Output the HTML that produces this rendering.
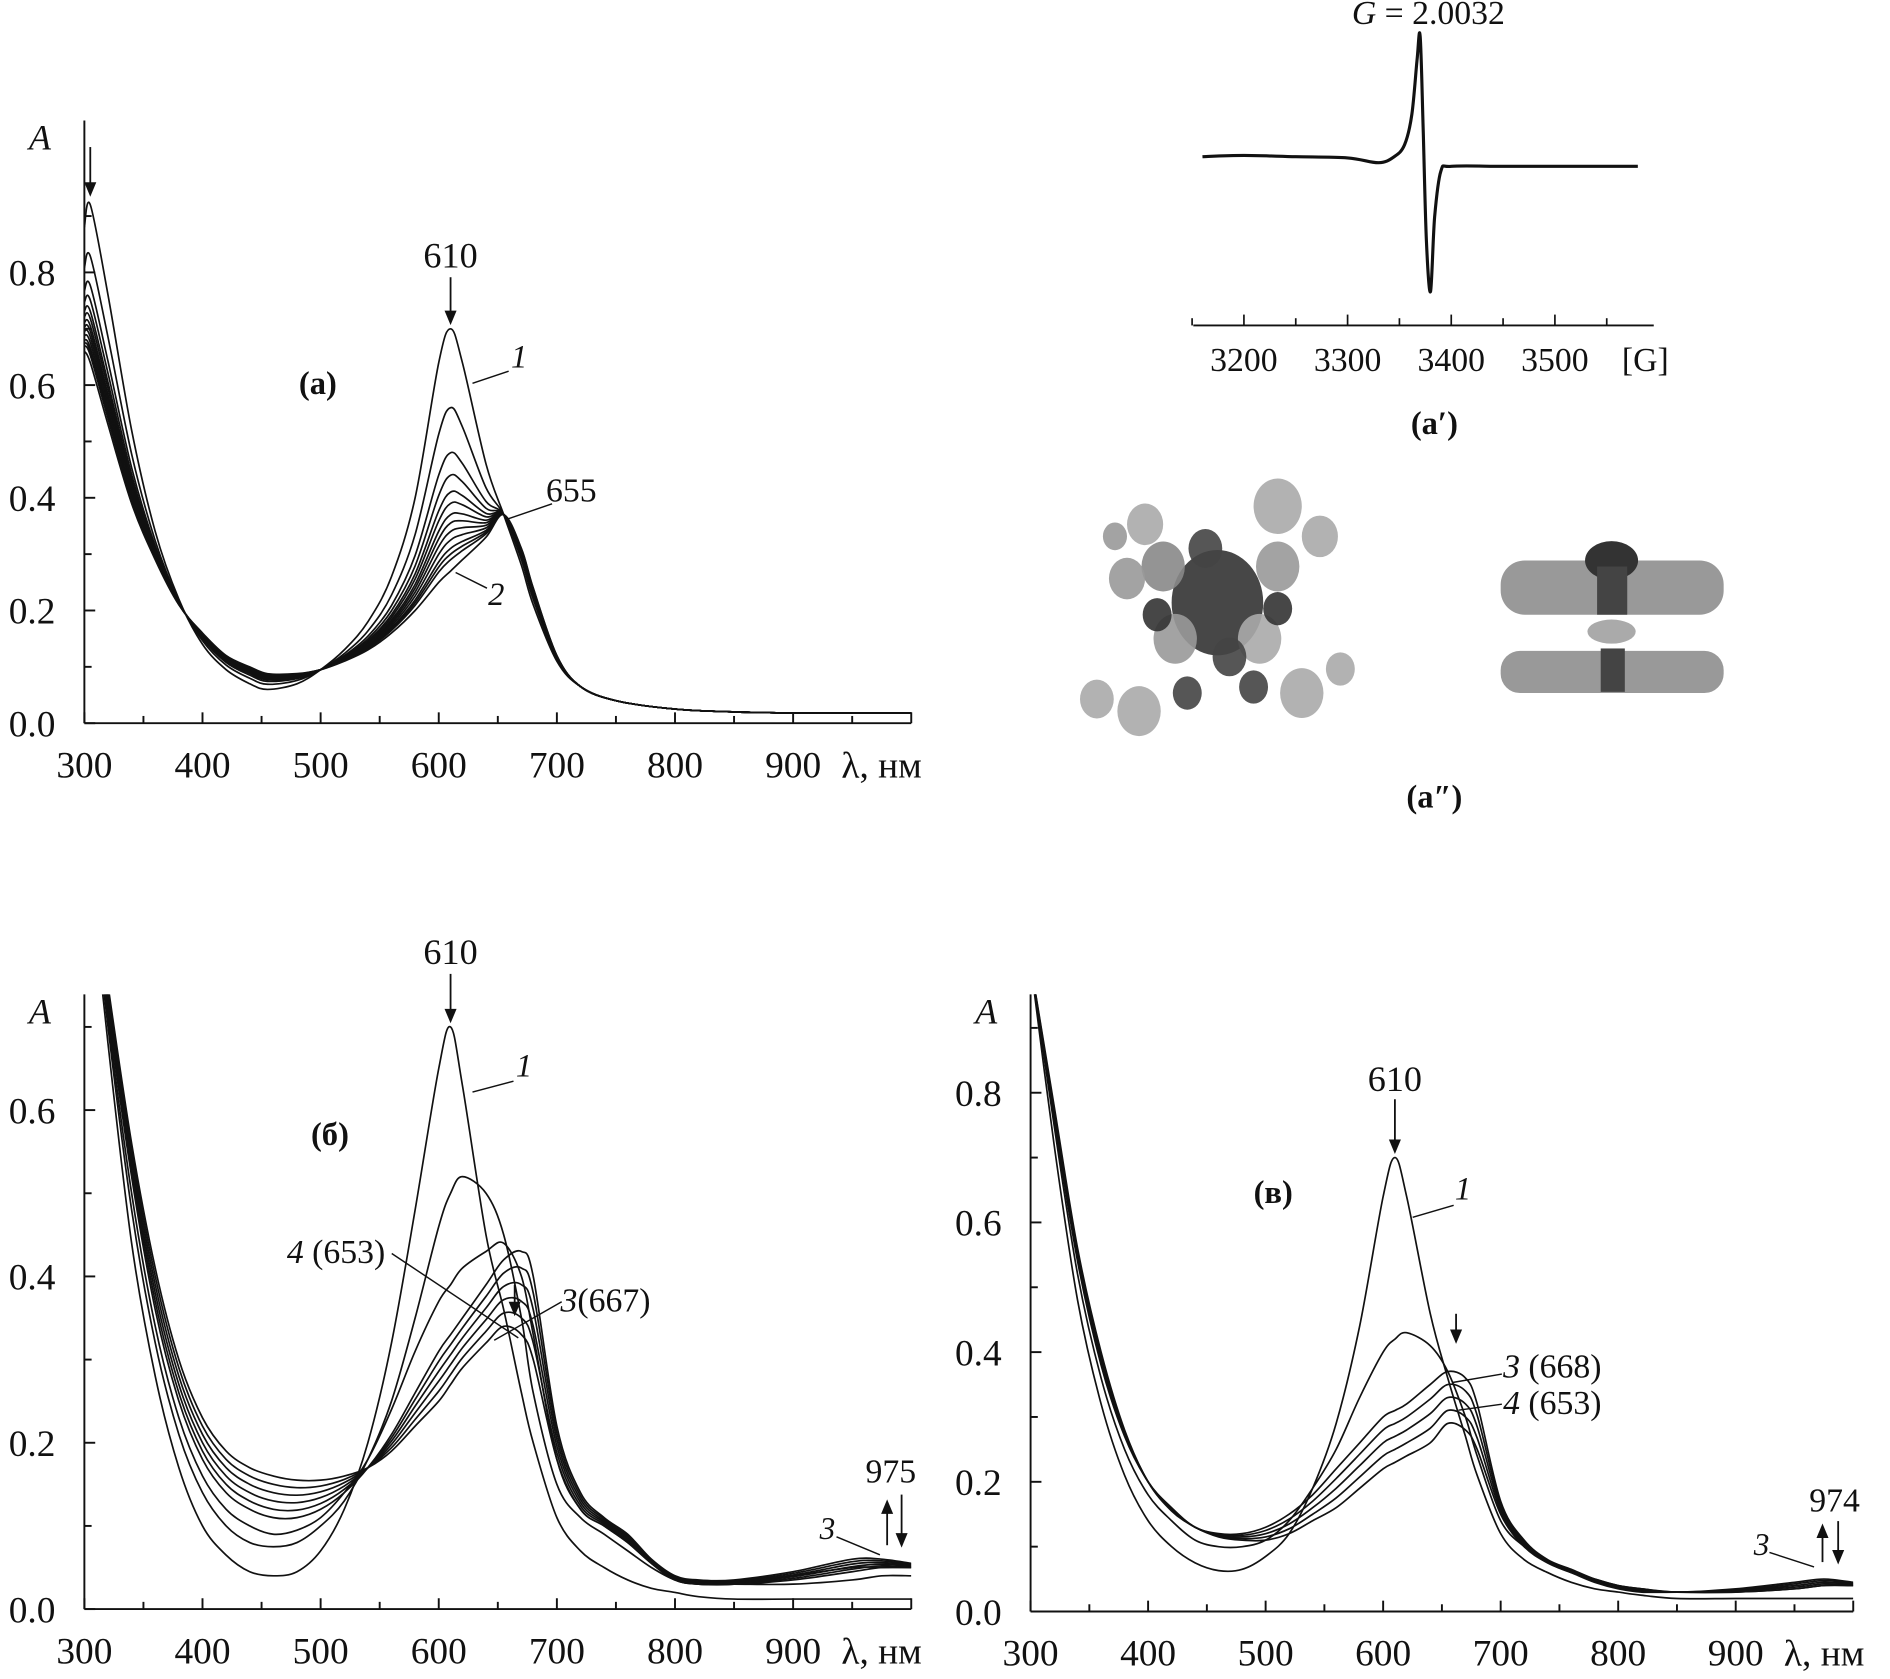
<!DOCTYPE html>
<html><head><meta charset="utf-8"><style>
html,body{margin:0;padding:0;background:#fff;}
svg{display:block;}
text{font-family:"Liberation Serif",serif;fill:#111;}
</style></head><body>
<svg id="fig" width="1890" height="1679" viewBox="0 0 1568 1393" preserveAspectRatio="none" xmlns="http://www.w3.org/2000/svg">
<g id="molecules"></g>
<g id="epr"></g>
</svg>
<script>
// ---------- DATA ----------
const gridA = [300,305,320,340,360,380,400,420,440,455,480,500,520,540,560,580,600,610,620,640,655,670,680,700,720,750,800,850,900,950,1000];
const aCurve1 = [0.88,0.92,0.76,0.52,0.34,0.22,0.14,0.095,0.07,0.06,0.07,0.095,0.13,0.18,0.26,0.40,0.64,0.70,0.64,0.46,0.37,0.28,0.21,0.11,0.065,0.04,0.025,0.02,0.018,0.018,0.018];
const aCurve2 = [0.66,0.64,0.53,0.39,0.29,0.21,0.16,0.12,0.10,0.088,0.088,0.095,0.11,0.13,0.16,0.20,0.25,0.27,0.29,0.33,0.37,0.31,0.24,0.12,0.065,0.04,0.025,0.02,0.018,0.018,0.018];
const aPeaks = [0.56,0.48,0.44,0.41,0.39,0.37,0.355,0.34,0.325,0.31,0.30,0.29];

const gridB = [300,320,340,360,380,400,420,440,460,480,500,520,540,560,580,600,610,620,640,655,670,680,700,720,740,760,780,800,820,850,900,950,975,1000];
const bCurve1 = [0.95,0.68,0.44,0.28,0.17,0.10,0.065,0.045,0.04,0.045,0.07,0.12,0.20,0.32,0.48,0.65,0.70,0.63,0.45,0.36,0.26,0.20,0.11,0.07,0.05,0.035,0.025,0.02,0.015,0.012,0.012,0.012,0.012,0.012];
const bCurve2 = [0.95,0.70,0.48,0.32,0.21,0.14,0.10,0.08,0.075,0.08,0.10,0.13,0.18,0.25,0.35,0.46,0.50,0.52,0.50,0.45,0.35,0.26,0.15,0.11,0.09,0.07,0.05,0.035,0.03,0.03,0.03,0.035,0.04,0.04];
const bCurve4 = [0.95,0.71,0.50,0.34,0.23,0.16,0.12,0.10,0.09,0.095,0.11,0.14,0.18,0.24,0.31,0.37,0.39,0.41,0.43,0.44,0.40,0.33,0.18,0.12,0.10,0.08,0.055,0.035,0.03,0.03,0.04,0.05,0.05,0.05];
const bCurve3 = [0.95,0.72,0.52,0.36,0.25,0.18,0.14,0.12,0.11,0.11,0.12,0.14,0.17,0.21,0.26,0.31,0.33,0.35,0.39,0.42,0.43,0.40,0.22,0.14,0.11,0.09,0.06,0.04,0.035,0.035,0.045,0.06,0.06,0.055];
const bCurveLast = [0.95,0.75,0.56,0.41,0.30,0.23,0.19,0.17,0.16,0.155,0.155,0.16,0.17,0.19,0.22,0.25,0.27,0.29,0.32,0.34,0.33,0.30,0.18,0.12,0.10,0.08,0.055,0.035,0.03,0.03,0.035,0.045,0.05,0.05];
const bMix = [0.8,0.6,0.4,0.2];

const cCurve1 = [1.0,0.72,0.48,0.32,0.21,0.14,0.10,0.075,0.063,0.065,0.085,0.12,0.19,0.29,0.44,0.64,0.70,0.64,0.46,0.36,0.27,0.21,0.12,0.08,0.06,0.045,0.035,0.03,0.025,0.02,0.02,0.02,0.02,0.02];
const cCurve2 = [1.0,0.75,0.52,0.36,0.25,0.18,0.14,0.11,0.10,0.10,0.11,0.14,0.19,0.25,0.33,0.40,0.42,0.43,0.41,0.37,0.30,0.24,0.14,0.10,0.075,0.06,0.05,0.04,0.035,0.03,0.03,0.035,0.04,0.04];
const cCurve3 = [1.0,0.76,0.54,0.38,0.27,0.20,0.16,0.13,0.12,0.12,0.13,0.15,0.18,0.22,0.26,0.30,0.31,0.32,0.35,0.37,0.36,0.32,0.17,0.11,0.08,0.065,0.05,0.04,0.035,0.03,0.035,0.045,0.05,0.045];
const cCurveLast = [1.0,0.78,0.56,0.40,0.28,0.20,0.155,0.13,0.115,0.11,0.11,0.12,0.14,0.16,0.19,0.22,0.23,0.24,0.26,0.29,0.28,0.25,0.15,0.10,0.075,0.06,0.045,0.035,0.03,0.03,0.03,0.035,0.04,0.04];
const cMix = [0.75,0.5,0.25];

const xTicks = [300,400,500,600,700,800,900];
const yTicksA = [0.0,0.2,0.4,0.6,0.8];
const yTicksB = [0.0,0.2,0.4,0.6];
const yTicksC = [0.0,0.2,0.4,0.6,0.8];

const eprField = [3160,3200,3250,3300,3330,3345,3355,3362,3367,3370,3373,3376,3380,3384,3390,3400,3450,3500,3580];
const eprSignal = [0.0,0.01,0.0,-0.01,-0.05,0.0,0.1,0.35,0.8,1.0,0.2,-0.7,-1.12,-0.5,-0.12,-0.08,-0.08,-0.08,-0.08];
const eprTicks = [3200,3300,3400,3500];

// ---------- HELPERS ----------
const NS='http://www.w3.org/2000/svg';
const svg=document.getElementById('fig');
function el(tag,attrs,parent){const e=document.createElementNS(NS,tag);for(const k in attrs)e.setAttribute(k,attrs[k]);(parent||svg).appendChild(e);return e;}
function txt(parent,x,y,s,size,opts){const t=el('text',Object.assign({x:x,y:y,'font-size':size},opts||{}),parent);t.textContent=s;return t;}
function smoothPath(pts){let d='M'+pts[0][0].toFixed(1)+','+pts[0][1].toFixed(1);
 for(let i=0;i<pts.length-1;i++){const p0=pts[i-1]||pts[i],p1=pts[i],p2=pts[i+1],p3=pts[i+2]||p2;
  const c1=[p1[0]+(p2[0]-p0[0])/6,p1[1]+(p2[1]-p0[1])/6],c2=[p2[0]-(p3[0]-p1[0])/6,p2[1]-(p3[1]-p1[1])/6];
  d+='C'+c1[0].toFixed(1)+','+c1[1].toFixed(1)+' '+c2[0].toFixed(1)+','+c2[1].toFixed(1)+' '+p2[0].toFixed(1)+','+p2[1].toFixed(1);}
 return d;}
function arrow(g,x,y1,y2){el('line',{x1:x,y1:y1,x2:x,y2:y2-8,stroke:'#111','stroke-width':1.5},g);
 el('path',{d:`M${x-5},${y2-12}L${x+5},${y2-12}L${x},${y2}Z`,fill:'#111'},g);}

function panel(cfg){
 const g=el('g',{});
 
 
 const X=v=>cfg.x0+(v-300)*cfg.xs/100, Y=v=>cfg.y0-v*cfg.ys;
 const cid='clip'+cfg.name;
 const cp=el('clipPath',{id:cid},g);el('rect',{x:cfg.x0,y:cfg.top,width:X(1000)-cfg.x0,height:cfg.y0-cfg.top},cp);
 const cg=el('g',{'clip-path':`url(#${cid})`},g);
 cfg.series.forEach((s,i)=>{const p=el('path',{d:smoothPath(cfg.grid.map((w,j)=>[X(w),Y(s[j])])),fill:'none',stroke:'#111','stroke-width':1.4},cg);
  
  });
 const ax=el('g',{stroke:'#111','stroke-width':1.6},g);
 
 
 el('line',{x1:cfg.x0,y1:cfg.top,x2:cfg.x0,y2:cfg.y0},ax);
 el('line',{x1:cfg.x0,y1:cfg.y0,x2:X(1000),y2:cfg.y0},ax);
 for(let w=300;w<=1000;w+=50){el('line',{x1:X(w),y1:cfg.y0,x2:X(w),y2:cfg.y0-(w%100?6:9)},ax);}
 for(let v=0;v<=cfg.ymax+1e-9;v+=0.1){el('line',{x1:cfg.x0,y1:Y(v),x2:cfg.x0+(Math.round(v*10)%2?6:9),y2:Y(v)},ax);}
 xTicks.forEach(w=>{const t=txt(g,X(w),cfg.y0+45,String(w),31,{'text-anchor':'middle'});
  
  });
 cfg.yticks.forEach(v=>{const t=txt(g,cfg.x0-24,Y(v)+11,v.toFixed(1),31,{'text-anchor':'end'});
  
  });
 const at=txt(g,cfg.x0-46,cfg.top+24,'A',30,{'font-style':'italic'});
 
 
 const xt=txt(g,X(900)+40,cfg.y0+45,'λ, нм',31,{'text-anchor':'start'});
 
 
 return {g,X,Y};
}
function mix(a,b,w){return a.map((v,i)=>w*v+(1-w)*b[i]);}

// Panel a
const aSeries=[aCurve1].concat(aPeaks.map(p=>mix(aCurve1,aCurve2,(p-0.27)/0.43))).concat([aCurve2]);
const pa=panel({name:'panel-a',x0:70,y0:600,xs:98,ys:467.5,top:100,ymax:0.95,yticks:yTicksA,grid:gridA,series:aSeries});
arrow(pa.g,pa.X(305),122,pa.Y(0.93)-2);
txt(pa.g,pa.X(610),222,'610',30,{'text-anchor':'middle'});arrow(pa.g,pa.X(610),230,pa.Y(0.70)-3);
txt(pa.g,248,327,'(a)',27,{'font-weight':'bold'});
txt(pa.g,424,305,'1',27,{'font-style':'italic'});el('line',{x1:392,y1:318,x2:422,y2:308,stroke:'#111','stroke-width':1.2},pa.g);
txt(pa.g,453,416,'655',28);el('line',{x1:420,y1:431,x2:458,y2:418,stroke:'#111','stroke-width':1.2},pa.g);
txt(pa.g,405,502,'2',27,{'font-style':'italic'});el('line',{x1:378,y1:475,x2:404,y2:488,stroke:'#111','stroke-width':1.2},pa.g);

// Panel б
const bSeries=[bCurve1,bCurve2,bCurve4,bCurve3].concat(bMix.map(w=>mix(bCurve3,bCurveLast,w))).concat([bCurveLast]);
const pb=panel({name:'panel-b',x0:70,y0:1335,xs:98,ys:690,top:825,ymax:0.7,yticks:yTicksB,grid:gridB,series:bSeries});
txt(pb.g,pb.X(610),800,'610',30,{'text-anchor':'middle'});arrow(pb.g,pb.X(610),808,pb.Y(0.70)-3);
arrow(pb.g,427,1066,1092);
txt(pb.g,258,950,'(б)',27,{'font-weight':'bold'});
txt(pb.g,428,893,'1',27,{'font-style':'italic'});el('line',{x1:392,y1:906,x2:426,y2:897,stroke:'#111','stroke-width':1.2},pb.g);
const l4=txt(pb.g,238,1048,'',28);l4.innerHTML='<tspan font-style="italic">4</tspan> (653)';
el('line',{x1:325,y1:1040,x2:430,y2:1110,stroke:'#111','stroke-width':1.2},pb.g);
const l3=txt(pb.g,465,1088,'',28);l3.innerHTML='<tspan font-style="italic">3</tspan>(667)';
el('line',{x1:410,y1:1112,x2:466,y2:1080,stroke:'#111','stroke-width':1.2},pb.g);
txt(pb.g,739,1230,'975',28,{'text-anchor':'middle'});
arrow(pb.g,748,1240,1284);
el('line',{x1:736,y1:1282,x2:736,y2:1252,stroke:'#111','stroke-width':1.5},pb.g);el('path',{d:'M731,1256L741,1256L736,1244Z',fill:'#111'},pb.g);
txt(pb.g,680,1277,'3',26,{'font-style':'italic'});el('line',{x1:694,y1:1275,x2:730,y2:1290,stroke:'#111','stroke-width':1.2},pb.g);

// Panel в
const cSeries=[cCurve1,cCurve2,cCurve3].concat(cMix.map(w=>mix(cCurve3,cCurveLast,w))).concat([cCurveLast]);
const pc=panel({name:'panel-v',x0:855,y0:1337,xs:97.5,ys:538,top:825,ymax:0.95,yticks:yTicksC,grid:gridB,series:cSeries});
txt(pc.g,pc.X(610),905,'610',30,{'text-anchor':'middle'});arrow(pc.g,pc.X(610),912,pc.Y(0.70)-3);
arrow(pc.g,1208,1090,1115);
txt(pc.g,1040,998,'(в)',27,{'font-weight':'bold'});
txt(pc.g,1207,995,'1',27,{'font-style':'italic'});el('line',{x1:1172,y1:1010,x2:1206,y2:1000,stroke:'#111','stroke-width':1.2},pc.g);
const c3=txt(pc.g,1247,1143,'',28);c3.innerHTML='<tspan font-style="italic">3</tspan> (668)';
el('line',{x1:1205,y1:1147,x2:1246,y2:1140,stroke:'#111','stroke-width':1.2},pc.g);
const c4=txt(pc.g,1247,1173,'',28);c4.innerHTML='<tspan font-style="italic">4</tspan> (653)';
el('line',{x1:1210,y1:1170,x2:1246,y2:1165,stroke:'#111','stroke-width':1.2},pc.g);
txt(pc.g,1522,1254,'974',28,{'text-anchor':'middle'});
arrow(pc.g,1525,1262,1298);
el('line',{x1:1512,y1:1296,x2:1512,y2:1272,stroke:'#111','stroke-width':1.5},pc.g);el('path',{d:'M1507,1276L1517,1276L1512,1264Z',fill:'#111'},pc.g);
txt(pc.g,1455,1290,'3',26,{'font-style':'italic'});el('line',{x1:1468,y1:1288,x2:1505,y2:1300,stroke:'#111','stroke-width':1.2},pc.g);

// EPR inset
const epr=document.getElementById('epr');
const EX=f=>1032+(f-3200)*0.86, EY=s=>130-s*100;
const ep=el('path',{d:smoothPath(eprField.map((f,i)=>[EX(f),EY(eprSignal[i])])),fill:'none',stroke:'#111','stroke-width':2.6},epr);


el('line',{x1:990,y1:270,x2:1372,y2:270,stroke:'#111','stroke-width':1.6},epr);
for(let f=3150;f<=3580;f+=50){el('line',{x1:EX(f),y1:270,x2:EX(f),y2:f%100?264:261,stroke:'#111','stroke-width':1.4},epr);}
eprTicks.forEach(f=>{txt(epr,EX(f),308,String(f),28,{'text-anchor':'middle'});});
txt(epr,1365,308,'[G]',28,{'text-anchor':'middle'});
const gl=txt(epr,1185,20,'',28,{'text-anchor':'middle'});gl.innerHTML='<tspan font-style="italic">G</tspan> = 2.0032';
txt(epr,1190,360,'(a′)',27,{'font-weight':'bold','text-anchor':'middle'});

// molecule images (approximate)
const mol=document.getElementById('molecules');
const blobs=[[1010,500,38,'#333'],[965,470,18,'#888'],[935,480,15,'#999'],[1060,470,18,'#999'],[975,530,18,'#999'],[1045,530,18,'#aaa'],[1000,455,14,'#444'],[1020,545,14,'#444'],[960,510,12,'#333'],[1060,505,12,'#333'],[1060,420,20,'#aaa'],[1095,445,15,'#aaa'],[950,435,15,'#aaa'],[1080,575,18,'#aaa'],[945,590,18,'#aaa'],[910,580,14,'#aaa'],[1112,555,12,'#aaa'],[925,445,10,'#999'],[985,575,12,'#444'],[1040,570,12,'#444']];
blobs.forEach(b=>el('ellipse',{cx:b[0],cy:b[1],rx:b[2],ry:b[2]*1.15,fill:b[3],opacity:0.9},mol));
el('rect',{x:1245,y:465,width:185,height:45,rx:20,fill:'#999'},mol);
el('rect',{x:1245,y:540,width:185,height:35,rx:16,fill:'#999'},mol);
el('ellipse',{cx:1337,cy:465,rx:22,ry:16,fill:'#333'},mol);
el('rect',{x:1325,y:470,width:25,height:40,fill:'#444'},mol);
el('ellipse',{cx:1337,cy:524,rx:20,ry:10,fill:'#aaa'},mol);
el('rect',{x:1328,y:538,width:20,height:36,fill:'#444'},mol);
txt(mol,1190,670,'(a″)',27,{'font-weight':'bold','text-anchor':'middle'});
</script>
</body></html>
